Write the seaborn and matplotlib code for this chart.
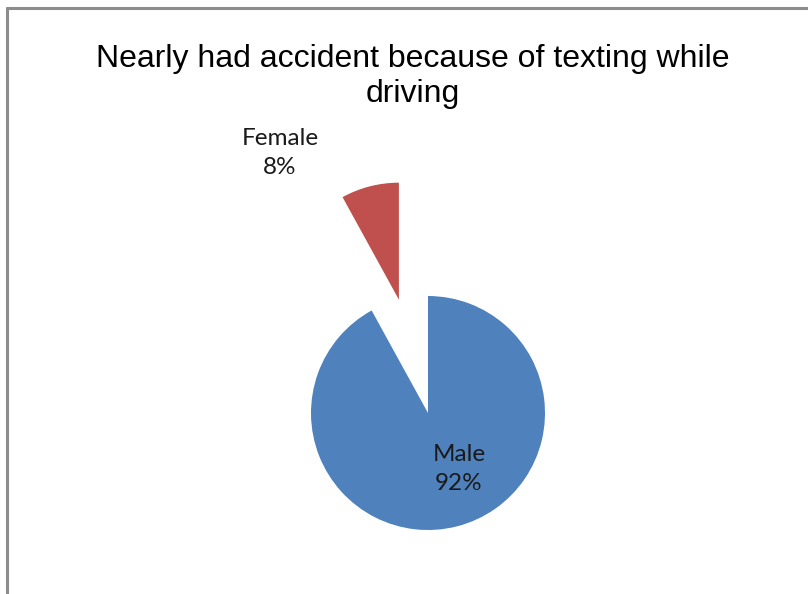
import matplotlib
matplotlib.use("Agg")
import matplotlib.pyplot as plt
from matplotlib.lines import Line2D
import seaborn as sns

# Survey answers by gender
categories = ["Male", "Female"]
shares = [92, 8]
colors = ["#4F81BD", "#C0504D"]
title = "Nearly had accident because of texting while\ndriving"

sns.set_theme(style="white")
plt.rcParams["font.family"] = ["Liberation Sans", "DejaVu Sans"]

W, H = 808, 594
fig = plt.figure(figsize=(W / 100, H / 100), dpi=100)
fig.patch.set_facecolor("white")

# Pie axes: centre at (428, 413) px, radius 117 px
cx, cy, r = 428, 413, 117
L = 2.1
S = 2 * L * r
ax = fig.add_axes([(cx - S / 2) / W, (H - cy - S / 2) / H, S / W, S / H])

wedges, _ = ax.pie(shares, colors=colors, startangle=90, counterclock=False,
                   explode=[0, 1.0], radius=1,
                   wedgeprops=dict(linewidth=0))
ax.set_xlim(-L, L)
ax.set_ylim(-L, L)
ax.set_aspect("equal")
ax.axis("off")
for w in wedges:
    w.set_clip_on(False)

label_pos = {"Male": (0.265, -0.478), "Female": (-1.265, 2.225)}
for name, val in zip(categories, shares):
    x, y = label_pos[name]
    ax.text(x, y, f"{name}\n{val}%", ha="center", va="center",
            fontsize=17.5, family=["Lato", "DejaVu Sans"], color="#1a1a1a",
            linespacing=1.45, clip_on=False)

fig.text(413 / W, 1 - 76.5 / H, title, ha="center", va="center",
         fontsize=23, color="black", linespacing=1.2)

# Chart frame (top and left edges)
fig.add_artist(Line2D([7 / W, 1], [1 - 8 / H, 1 - 8 / H],
                      transform=fig.transFigure, color="#8c8c8c", lw=2.2))
fig.add_artist(Line2D([7 / W, 7 / W], [0, 1 - 8 / H],
                      transform=fig.transFigure, color="#8c8c8c", lw=2.2))

fig.savefig("out.png", dpi=100, facecolor="white")
